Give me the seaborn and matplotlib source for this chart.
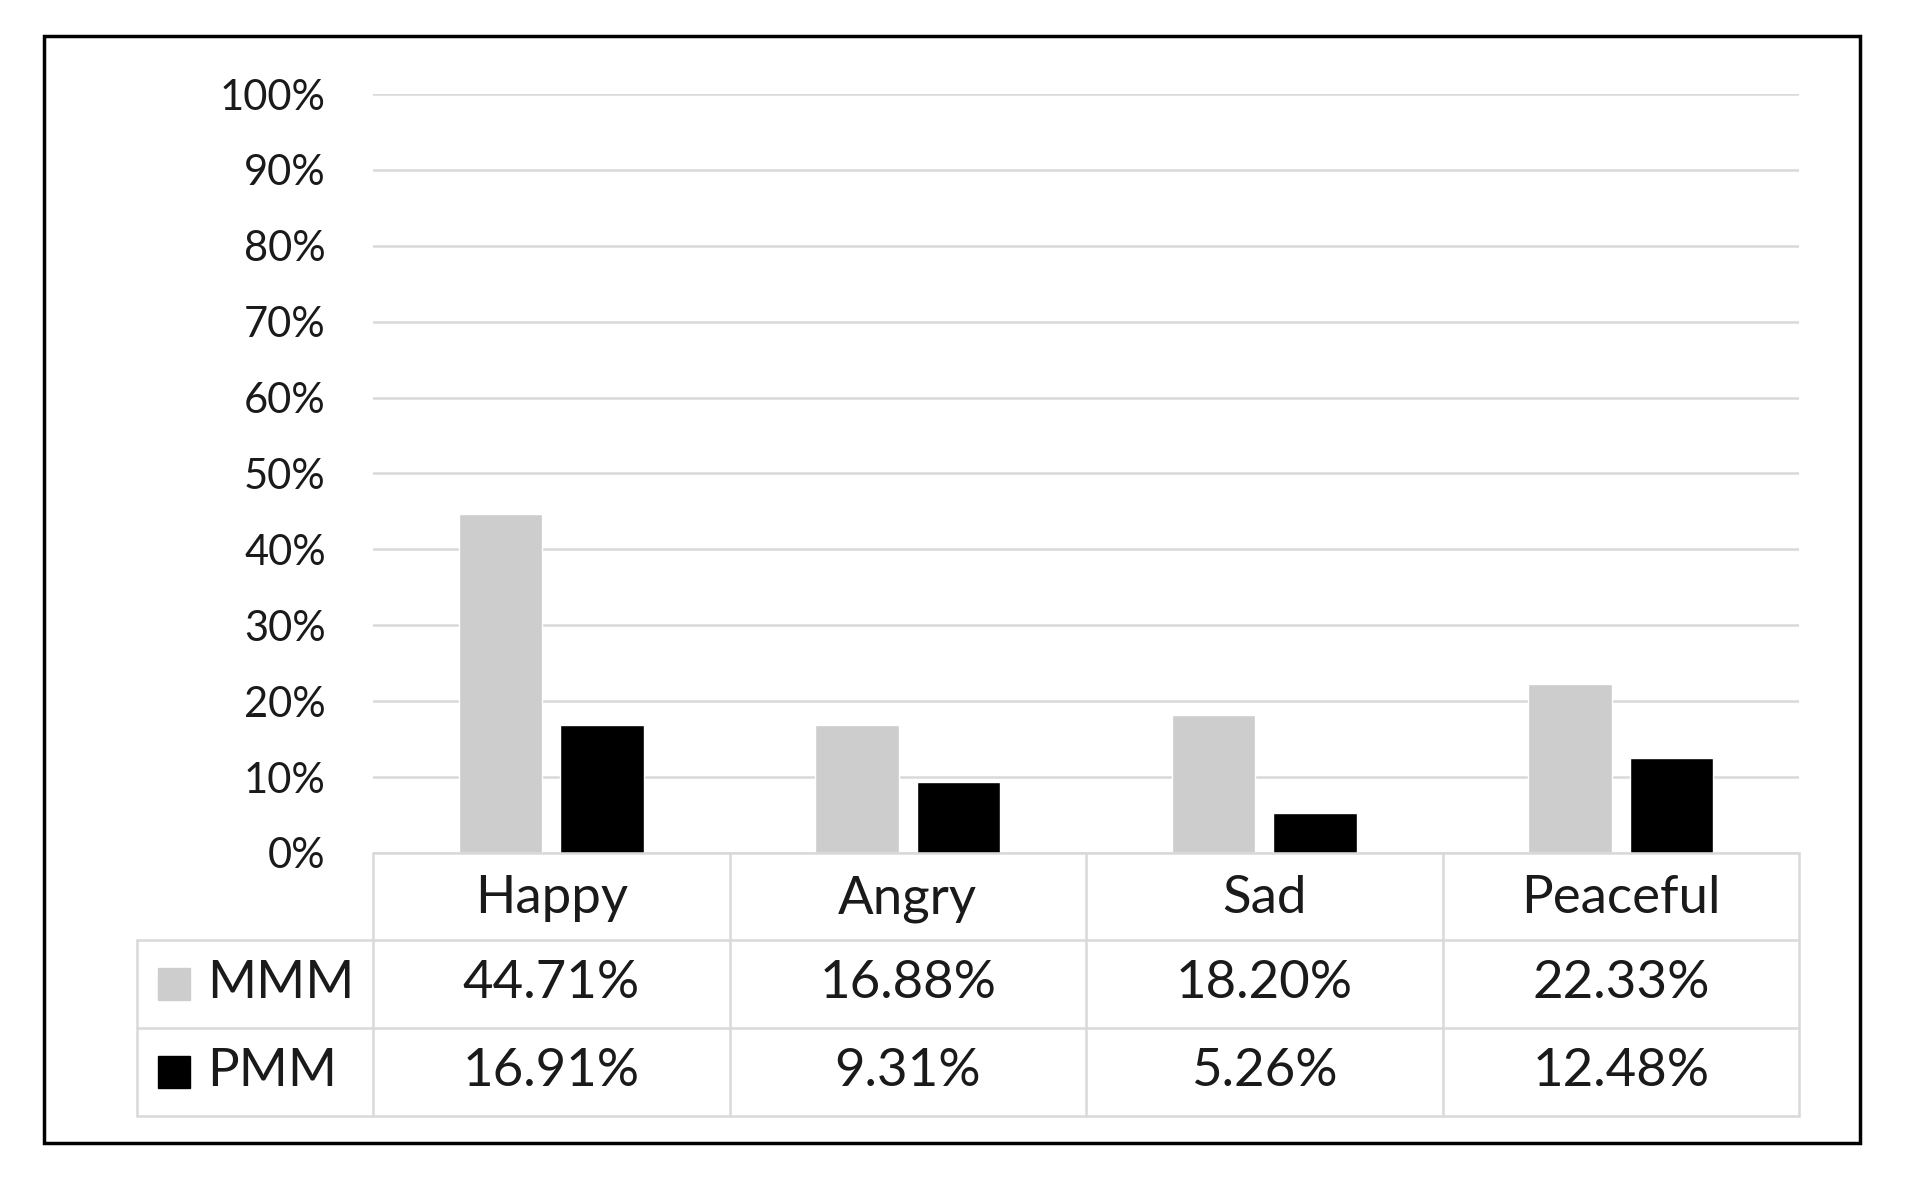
import pandas as pd
import matplotlib.pyplot as plt
import seaborn as sns
from matplotlib.ticker import PercentFormatter, MultipleLocator
from matplotlib.transforms import blended_transform_factory

# Data
categories = ['Happy', 'Angry', 'Sad', 'Peaceful']
series_names = ['MMM', 'PMM']
mmm = [44.71, 16.88, 18.20, 22.33]
pmm = [16.91, 9.31, 5.26, 12.48]
colors = ['#cdcdcd', '#000000']

df = pd.DataFrame({
    'Emotion': categories * 2,
    'Share': mmm + pmm,
    'Method': [series_names[0]] * len(categories) + [series_names[1]] * len(categories),
})

sns.set_style('white')
plt.rcParams['font.family'] = ['Lato', 'DejaVu Sans']
text_color = '#1a1a1a'
grid_color = '#d9d9d9'

fig = plt.figure(figsize=(19.06, 11.87), dpi=100)
ax = fig.add_axes([0.1957, 0.2814, 0.7482, 0.6394])

sns.barplot(data=df, x='Emotion', y='Share', hue='Method', palette=colors,
            width=0.57, gap=0.18, saturation=1, legend=False, ax=ax)

ax.set_xlim(-0.5, len(categories) - 0.5)
ax.set_ylim(0, 100)
ax.yaxis.set_major_locator(MultipleLocator(10))
ax.yaxis.set_major_formatter(PercentFormatter(decimals=0))
ax.grid(axis='y', color=grid_color, lw=1.8)
ax.set_axisbelow(True)
for s in ax.spines.values():
    s.set_visible(False)
ax.set_xlabel('')
ax.set_ylabel('')
ax.tick_params(axis='y', length=0, pad=34, labelsize=30, labelcolor=text_color)
ax.tick_params(axis='x', length=0, pad=33, labelsize=38, labelcolor=text_color)
for lab in ax.get_xticklabels():
    lab.set_va('center')

# data table under the chart
tr = blended_transform_factory(ax.transData, ax.transAxes)
left_edge = -1.162
row_edges = [0, -0.1146, -0.2306, -0.3465]
line_kw = dict(color=grid_color, lw=1.8, transform=tr, clip_on=False)
ax.plot([-0.5, 3.5], [row_edges[0]] * 2, **line_kw)
for y in row_edges[1:]:
    ax.plot([left_edge, 3.5], [y, y], **line_kw)
ax.plot([left_edge, left_edge], [row_edges[1], row_edges[3]], **line_kw)
for x in [-0.5, 0.5, 1.5, 2.5, 3.5]:
    ax.plot([x, x], [row_edges[0], row_edges[3]], **line_kw)

for r, (name, vals, col) in enumerate(zip(series_names, [mmm, pmm], colors)):
    yc = (row_edges[r + 1] + row_edges[r + 2]) / 2
    ax.plot([-1.058], [yc], marker='s', ms=23, color=col, mec=col,
            transform=tr, clip_on=False)
    ax.text(-0.966, yc, name, transform=tr, ha='left', va='center',
            fontsize=38, color=text_color)
    for i, v in enumerate(vals):
        ax.text(i, yc, f'{v:.2f}%', transform=tr, ha='center', va='center',
                fontsize=38, color=text_color)

# outer frame
fig.add_artist(plt.Rectangle((44 / 1906, 1 - 1143 / 1187), (1860 - 44) / 1906,
                             (1143 - 36) / 1187, fill=False, lw=2.5, ec='black',
                             transform=fig.transFigure))

fig.savefig('out.png', dpi=100)
